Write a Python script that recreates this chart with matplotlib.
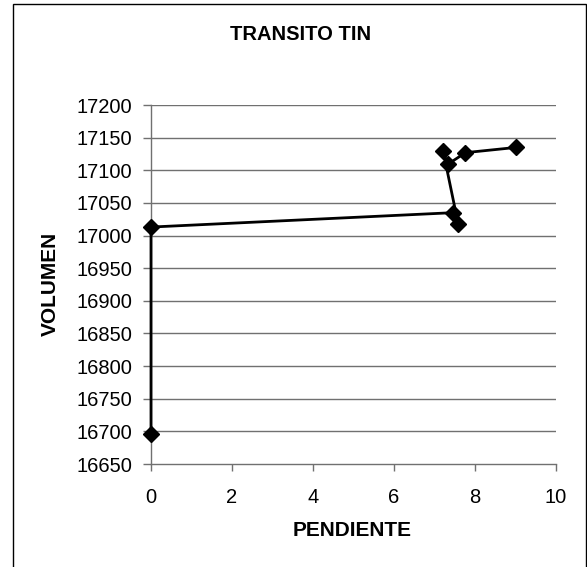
import matplotlib.pyplot as plt
from matplotlib.patches import Rectangle

plt.rcParams['font.family'] = ['Liberation Sans', 'DejaVu Sans']

# data
pendiente = [0, 0, 7.45, 7.59, 7.22, 7.33, 7.77, 9.02]
volumen = [16696, 17013, 17035, 17018, 17129, 17109, 17127, 17135]
x_ticks = [0, 2, 4, 6, 8, 10]
y_ticks = [16650, 16700, 16750, 16800, 16850, 16900, 16950, 17000,
           17050, 17100, 17150, 17200]

fig = plt.figure(figsize=(5.87, 5.67), dpi=100)
ax = fig.add_axes([151 / 587, 1 - 464 / 567, (555.6 - 150.9) / 587, (464 - 105) / 567])

for yv in y_ticks[1:]:
    ax.axhline(yv, color='#707070', linewidth=1.0, zorder=1)

ax.plot(pendiente, volumen, color='black', linewidth=2.0, marker='D',
        markersize=8.3, markerfacecolor='black', zorder=3, clip_on=False)

ax.set_xlim(0, 10)
ax.set_ylim(16650, 17200)
ax.set_xticks(x_ticks)
ax.set_yticks(y_ticks)
ax.set_yticklabels([str(v) for v in y_ticks])

for side in ['top', 'right']:
    ax.spines[side].set_visible(False)
for side in ['left', 'bottom']:
    ax.spines[side].set_color('#707070')
    ax.spines[side].set_linewidth(1.0)

ax.tick_params(axis='y', length=5.5, width=1.0, color='#707070', pad=8, labelsize=14.5)
ax.tick_params(axis='x', length=5, width=1.0, color='#707070', pad=12, labelsize=14.5)

fig.text(301 / 587, 1 - 34.3 / 567, 'TRANSITO TIN', ha='center', va='center',
         fontsize=14.5, fontweight='bold')
fig.text(352 / 587, 1 - 530 / 567, 'PENDIENTE', ha='center', va='center',
         fontsize=15, fontweight='bold')
fig.text(50.5 / 587, 1 - 284 / 567, 'VOLUMEN', ha='center', va='center',
         rotation=90, fontsize=15, fontweight='bold')

# outer chart border
fig.add_artist(Rectangle((13 / 587, -0.05), (586 - 13) / 587, 1.05 - 4.3 / 567,
                         transform=fig.transFigure, fill=False,
                         edgecolor='black', linewidth=1.0))

fig.savefig('out.png', dpi=100)
